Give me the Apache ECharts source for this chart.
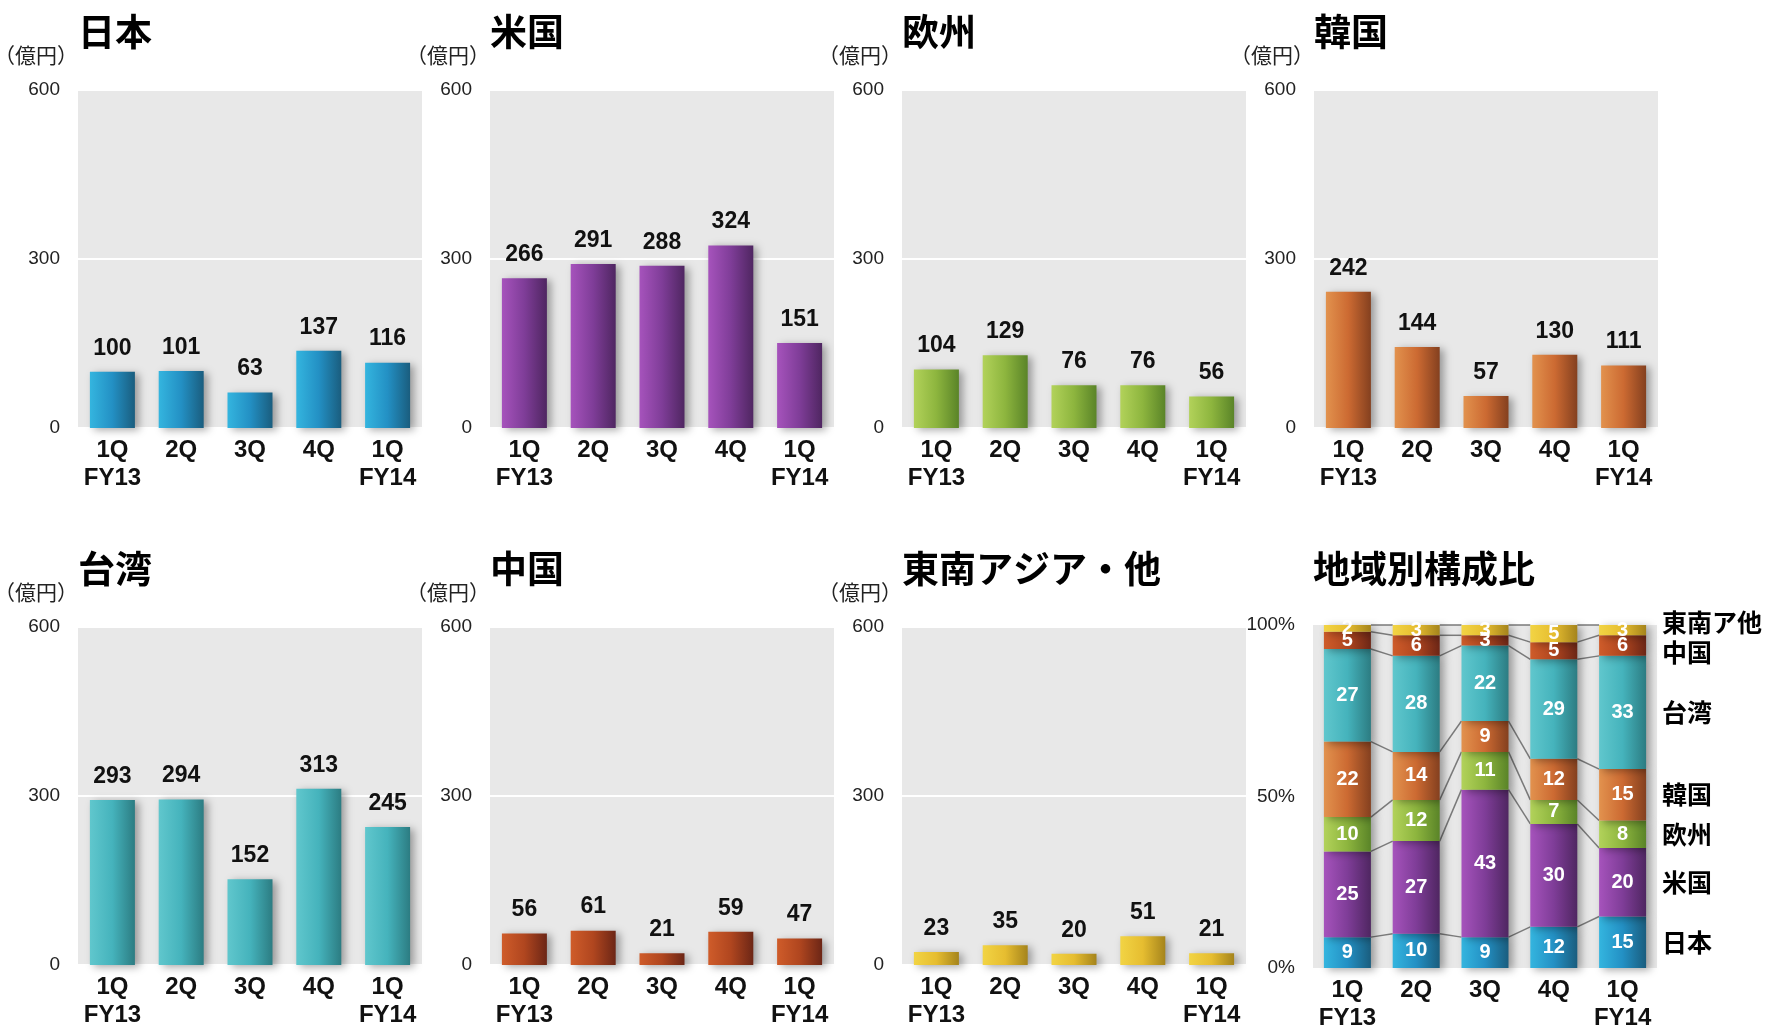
<!DOCTYPE html>
<html>
<head>
<meta charset="utf-8">
<script src="https://cdn.jsdelivr.net/npm/echarts@6/dist/echarts.min.js"></script>
<style>
html,body{margin:0;padding:0;background:#fff;}
#chart{width:1769px;height:1026px;}
</style>
</head>
<body>
<div id="chart"></div>
<script>
// ---- data ----
const categories = ['1Q\nFY13', '2Q', '3Q', '4Q', '1Q\nFY14'];
const japan  = [100, 101, 63, 137, 116];
const usa    = [266, 291, 288, 324, 151];
const europe = [104, 129, 76, 76, 56];
const korea  = [242, 144, 57, 130, 111];
const taiwan = [293, 294, 152, 313, 245];
const china  = [56, 61, 21, 59, 47];
const seAsia = [23, 35, 20, 51, 21];

// composition (%) per quarter, bottom to top
const shareJapan  = [9, 10, 9, 12, 15];
const shareUsa    = [25, 27, 43, 30, 20];
const shareEurope = [10, 12, 11, 7, 8];
const shareKorea  = [22, 14, 9, 12, 15];
const shareTaiwan = [27, 28, 22, 29, 33];
const shareChina  = [5, 6, 3, 5, 6];
const shareSeAsia = [2, 3, 3, 5, 3];

const yTicksAmount = [0, 300, 600];
const yTicksShare = [0, 50, 100];
const unitLabel = '（億円）';

// ---- styles ----
const FONT = "'Liberation Sans', Arial, 'Noto Sans CJK JP', sans-serif";
const CJK = "'Noto Sans CJK JP', 'Liberation Sans', sans-serif";
function grad(stops) {
  return {type: 'linear', x: 0, y: 0, x2: 1, y2: 0,
    colorStops: stops.map((c, i) => ({offset: i / (stops.length - 1), color: c}))};
}
const colors = {
  japan:  grad(['#34b5df', '#2390c4', '#1a5d7e']),
  usa:    grad(['#a653bc', '#7f3d98', '#4f2661']),
  europe: grad(['#b2d25a', '#8db53e', '#5a8428']),
  korea:  grad(['#e2924e', '#cc6a32', '#84401f']),
  taiwan: grad(['#60c7cd', '#45b3bc', '#2c7c82']),
  china:  grad(['#cf5c2a', '#b0461f', '#6c2616']),
  seAsia: grad(['#f2d444', '#e6bd30', '#a5841c'])
};

const panels = [
  {title: '日本', data: japan, color: colors.japan, col: 0, row: 0},
  {title: '米国', data: usa, color: colors.usa, col: 1, row: 0},
  {title: '欧州', data: europe, color: colors.europe, col: 2, row: 0},
  {title: '韓国', data: korea, color: colors.korea, col: 3, row: 0},
  {title: '台湾', data: taiwan, color: colors.taiwan, col: 0, row: 1},
  {title: '中国', data: china, color: colors.china, col: 1, row: 1},
  {title: '東南アジア・他', data: seAsia, color: colors.seAsia, col: 2, row: 1}
];
const shareSeries = [
  {name: '日本', data: shareJapan, color: colors.japan},
  {name: '米国', data: shareUsa, color: colors.usa},
  {name: '欧州', data: shareEurope, color: colors.europe},
  {name: '韓国', data: shareKorea, color: colors.korea},
  {name: '台湾', data: shareTaiwan, color: colors.taiwan},
  {name: '中国', data: shareChina, color: colors.china},
  {name: '東南ア他', data: shareSeAsia, color: colors.seAsia}
];
const legendNudge = {'中国': 7, '東南ア他': -8};

const colLeft = [78, 490, 902, 1314];
const rowTop = [90, 627];
const plotW = 344, plotH = 338;

const grids = [], xAxes = [], yAxes = [], series = [], titles = [];
const shadow = {shadowBlur: 8, shadowOffsetX: 4, shadowOffsetY: 2, shadowColor: 'rgba(0,0,0,0.35)'};

function addAxes(idx, left, top, h, share) {
  grids.push({left: left, top: top, width: plotW, height: h, show: true,
    backgroundColor: '#e8e8e8', borderWidth: 0, containLabel: false, outerBoundsMode: 'none'});
  xAxes.push({type: 'category', gridIndex: idx, data: categories,
    axisLine: {show: false}, axisTick: {show: false},
    axisLabel: {interval: 0, margin: 8, fontSize: 24, fontWeight: 'bold', color: '#111',
      fontFamily: FONT, lineHeight: 28, verticalAlign: 'top'}});
  const ticks = share ? yTicksShare : yTicksAmount;
  yAxes.push({type: 'value', gridIndex: idx, min: ticks[0], max: ticks[ticks.length - 1],
    interval: ticks[1] - ticks[0],
    name: share ? '' : unitLabel, nameLocation: 'end', nameGap: 24,
    nameTextStyle: {align: 'right', padding: [0, 0, 0, 0], fontSize: 21, color: '#222', fontFamily: CJK},
    axisLine: {show: false}, axisTick: {show: false},
    axisLabel: {margin: 18, fontSize: 19, color: '#222', fontFamily: FONT,
      formatter: share ? '{value}%' : '{value}'},
    splitLine: {show: !share, lineStyle: {color: '#ffffff', width: 2}}});
}

panels.forEach((p, idx) => {
  const left = colLeft[p.col], top = rowTop[p.row];
  addAxes(idx, left, top, plotH, false);
  titles.push({text: p.title, left: left - 5, top: top - 82,
    textStyle: {fontSize: 37, fontWeight: 'bold', color: '#000', fontFamily: CJK}});
  series.push({type: 'bar', xAxisIndex: idx, yAxisIndex: idx, data: p.data, barWidth: 45,
    itemStyle: Object.assign({color: p.color}, shadow),
    label: {show: true, position: 'top', distance: 12, fontSize: 23, fontWeight: 'bold',
      color: '#111', fontFamily: FONT}});
});

// composition chart
const sIdx = panels.length;
const sLeft = 1313, sTop = 625, sH = 343;
addAxes(sIdx, sLeft, sTop, sH, true);
titles.push({text: '地域別構成比', left: sLeft - 5, top: sTop - 80,
  textStyle: {fontSize: 37, fontWeight: 'bold', color: '#000', fontFamily: CJK}});
shareSeries.forEach(s => {
  series.push({type: 'bar', name: s.name, stack: 'share', xAxisIndex: sIdx, yAxisIndex: sIdx,
    data: s.data, barWidth: 47,
    itemStyle: Object.assign({color: s.color}, shadow),
    label: {show: true, position: 'inside', fontSize: 20, fontWeight: 'bold', color: '#fff', fontFamily: FONT}});
});
// cumulative boundaries per quarter
const cum = categories.map((c, i) => {
  const arr = [0];
  shareSeries.forEach(s => arr.push(arr[arr.length - 1] + s.data[i]));
  return arr;
});
const HALF = 23.5;
const connectorData = [];
for (let i = 0; i < categories.length - 1; i++) {
  for (let k = 1; k <= shareSeries.length; k++) connectorData.push([i, k]);
}
series.push({type: 'custom', xAxisIndex: sIdx, yAxisIndex: sIdx, z: 1, silent: true,
  data: connectorData,
  renderItem: function (params, api) {
    const i = api.value(0), k = api.value(1);
    const p1 = api.coord([i, cum[i][k]]);
    const p2 = api.coord([i + 1, cum[i + 1][k]]);
    return {type: 'line', shape: {x1: p1[0] + HALF, y1: p1[1], x2: p2[0] - HALF, y2: p2[1]},
      style: {stroke: '#7a7a7a', lineWidth: 1.5}};
  }});
const last = categories.length - 1;
series.push({type: 'custom', xAxisIndex: sIdx, yAxisIndex: sIdx, z: 5, silent: true, clip: false,
  data: shareSeries.map((s, j) => [last, j]),
  renderItem: function (params, api) {
    const j = api.value(1);
    const s = shareSeries[j];
    const mid = cum[last][j] + s.data[last] / 2;
    const p = api.coord([last, mid]);
    return {type: 'text', style: {text: s.name, x: p[0] + HALF + 16, y: p[1] + (legendNudge[s.name] || 0),
      align: 'left', verticalAlign: 'middle', fontSize: 25, fontWeight: 'bold', fill: '#000', fontFamily: CJK}};
  }});

const chart = echarts.init(document.getElementById('chart'), null, {renderer: 'canvas'});
chart.setOption({
  animation: false,
  backgroundColor: '#ffffff',
  title: titles,
  grid: grids,
  xAxis: xAxes,
  yAxis: yAxes,
  series: series
});
</script>
</body>
</html>
